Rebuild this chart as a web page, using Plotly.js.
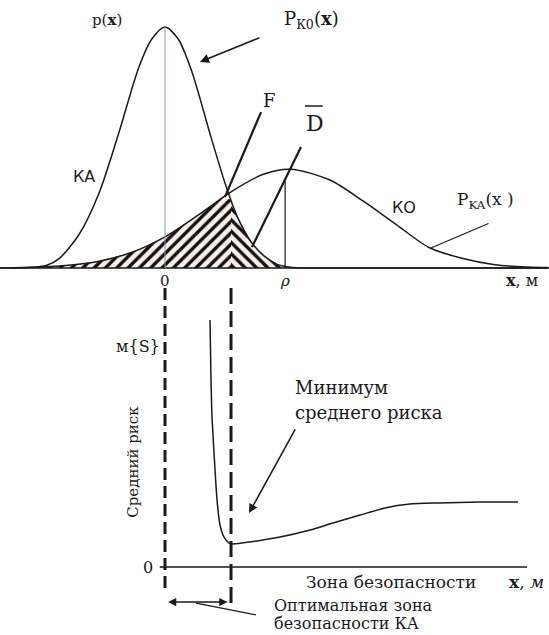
<!DOCTYPE html>
<html><head><meta charset="utf-8">
<script src="https://cdn.plot.ly/plotly-3.0.1.min.js"></script>
<style>body{margin:0;background:#fff}#c{width:549px;height:635px}</style>
</head><body><div id="c"></div>
<script>
// ---- top panel: probability densities (x in units of l) ----
const kaX = [-2.5,-2.0,-1.8,-1.6,-1.3,-1.0,-0.7,-0.4,-0.2,0,0.2,0.4,0.7,0.9,1.0,1.1,1.3,1.5,1.7,1.9,2.2,5.8];
const kaY = [0,0.003,0.01,0.04,0.14,0.31,0.56,0.83,0.95,1.0,0.95,0.82,0.54,0.36,0.28,0.21,0.11,0.05,0.015,0.003,0,0];
const koX = [-2.5,-1.9,-1.5,-1.0,-0.5,0,0.5,1.0,1.5,1.9,2.5,3.0,3.5,4.0,4.5,5.0,5.5,5.8];
const koY = [0,0.004,0.01,0.028,0.065,0.129,0.219,0.316,0.39,0.41,0.365,0.278,0.181,0.085,0.04,0.013,0.004,0.002];
const hatchLX = [-1.9,-1.5,-1.0,-0.5,0,0.5,0.9,1.0];
const hatchLY = [0.004,0.01,0.028,0.065,0.129,0.219,0.30,0.28];
const hatchRX = [1.0,1.1,1.3,1.5,1.7,1.9];
const hatchRY = [0.28,0.21,0.11,0.05,0.015,0.003];
const lineFX = [0.909,1.455], lineFY = [0.295,0.647];
const lineDX = [1.318,2.06], lineDY = [0.087,0.502];
const rho = 1.82, rhoTop = 0.36;
// ---- bottom panel: average risk ----
const riskX = [0.682,0.697,0.712,0.758,0.788,0.833,0.894,0.97,1.03,1.29,1.742,2.197,2.545,2.955,3.333,3.71,4.136,4.77,5.348];
const riskY = [1.123,0.85,0.682,0.441,0.305,0.191,0.136,0.109,0.105,0.114,0.136,0.168,0.2,0.236,0.268,0.286,0.291,0.295,0.295];
const optZone = [0, 1];

const SERIF = 'DejaVu Serif, Liberation Serif, serif';
const SANS = 'DejaVu Sans, Liberation Sans, sans-serif';
const ink = '#1a1a1a';

const traces = [
  {x: hatchLX, y: hatchLY, xaxis:'x', yaxis:'y', mode:'lines', line:{width:0}, fill:'tozeroy',
   fillcolor:'rgba(0,0,0,0)', fillpattern:{shape:'/', size:8, solidity:0.42, fgcolor:'#111', bgcolor:'#fbefe9'}, hoverinfo:'skip'},
  {x: hatchRX, y: hatchRY, xaxis:'x', yaxis:'y', mode:'lines', line:{width:0}, fill:'tozeroy',
   fillcolor:'rgba(0,0,0,0)', fillpattern:{shape:'\\', size:8, solidity:0.42, fgcolor:'#111', bgcolor:'#fbefe9'}, hoverinfo:'skip'},
  {x: kaX, y: kaY, mode:'lines', line:{color:ink, width:1.5, shape:'spline', smoothing:0.8}},
  {x: koX, y: koY, mode:'lines', line:{color:ink, width:1.5, shape:'spline', smoothing:0.8}},
  {x: lineFX, y: lineFY, mode:'lines', line:{color:ink, width:2.2}},
  {x: lineDX, y: lineDY, mode:'lines', line:{color:ink, width:2.2}},
  {x: riskX, y: riskY, xaxis:'x', yaxis:'y2', mode:'lines', line:{color:ink, width:1.5, shape:'spline', smoothing:0.6}}
];

const ann = (x, y, text, o) => Object.assign({x, y, xref:'x', yref:'y', text, showarrow:false,
  font:{family:SERIF, size:17, color:ink}}, o || {});
const f = (size, family) => ({family: family || SERIF, size, color: ink});

const annotations = [
  ann(-0.879, 1.029, 'p(<b>x</b>)', {font:f(15)}),
  ann(2.227, 1.029, 'P<sub>К0</sub>(<b>x</b>)', {font:f(18)}),
  {x:0.53, y:0.855, ax:1.455, ay:0.958, xref:'x', yref:'y', axref:'x', ayref:'y', text:'', showarrow:true,
   arrowhead:2, arrowsize:1.2, arrowwidth:1.5, arrowcolor:ink},
  ann(1.59, 0.697, 'F', {font:f(18)}),
  ann(2.27, 0.6, 'D', {font:f(22)}),
  ann(-1.227, 0.378, 'КА', {font:f(16, SANS)}),
  ann(3.62, 0.253, 'КО', {font:f(16, SANS)}),
  ann(4.85, 0.282, 'P<sub>KA</sub>(x )', {font:f(17)}),
  {x:4.03, y:0.083, ax:4.924, ay:0.187, xref:'x', yref:'y', axref:'x', ayref:'y', text:'', showarrow:true,
   arrowhead:0, arrowwidth:1.2, arrowcolor:ink},
  ann(0, -0.054, '0', {font:f(15)}),
  ann(rho, -0.054, '<i>ρ</i>', {font:f(15)}),
  ann(5.41, -0.054, '<b>x</b>, м', {font:f(16)}),
  // bottom
  ann(-0.409, 1.0, 'м{S}', {yref:'y2', font:f(16)}),
  ann(-0.48, 0.48, 'Средний риск', {yref:'y2', textangle:-90, font:f(15)}),
  ann(-0.26, 0, '0', {yref:'y2', font:f(16)}),
  ann(1.94, 0.814, 'Минимум', {yref:'y2', xanchor:'left', font:f(18)}),
  ann(1.94, 0.70, 'среднего риска', {yref:'y2', xanchor:'left', font:f(18)}),
  {x:1.273, y:0.245, ax:1.985, ay:0.632, xref:'x', yref:'y2', axref:'x', ayref:'y2', text:'', showarrow:true,
   arrowhead:2, arrowsize:1.2, arrowwidth:1.5, arrowcolor:ink},
  ann(3.424, -0.068, 'Зона безопасности', {yref:'y2', font:f(17)}),
  ann(5.18, -0.068, '<b>x</b>, <i>м</i>', {yref:'y2', xanchor:'left', font:f(17)}),
  {x:optZone[0]+0.045, y:-0.159, ax:optZone[1]-0.03, ay:-0.159, xref:'x', yref:'y2', axref:'x', ayref:'y2', text:'',
   showarrow:true, arrowhead:2, startarrowhead:2, arrowside:'end+start', arrowsize:1.1, arrowwidth:1.5, arrowcolor:ink},
  ann(1.62, -0.176, 'Оптимальная зона', {yref:'y2', xanchor:'left', font:f(16)}),
  ann(1.62, -0.258, 'безопасности КА', {yref:'y2', xanchor:'left', font:f(16)})
];

const shapes = [
  {type:'line', xref:'x', yref:'y', x0:-2.32, x1:5.818, y0:0, y1:0, line:{color:ink, width:1.6}},
  {type:'line', xref:'x', yref:'y', x0:0, x1:0, y0:0, y1:1, line:{color:'#8a9bb0', width:1}},
  {type:'line', xref:'x', yref:'y', x0:rho, x1:rho, y0:0, y1:rhoTop, line:{color:ink, width:1.2}},
  {type:'line', xref:'x', yref:'y', x0:2.12, x1:2.39, y0:0.672, y1:0.672, line:{color:ink, width:1.5}},
  {type:'line', xref:'x', yref:'y2', x0:0, x1:5.485, y0:0, y1:0, line:{color:ink, width:1.6}},
  {type:'line', xref:'x', yref:'y2', x0:-0.08, x1:0, y0:0, y1:0, line:{color:ink, width:1.6}},
  {type:'line', xref:'x', yref:'y2', x0:optZone[0], x1:optZone[0], y0:1.268, y1:-0.105, line:{color:ink, width:3, dash:'12px,6px'}},
  {type:'line', xref:'x', yref:'y2', x0:optZone[1], x1:optZone[1], y0:1.268, y1:-0.173, line:{color:ink, width:3, dash:'16px,7px'}},
  {type:'line', xref:'x', yref:'y2', x0:0.47, x1:1.379, y0:-0.164, y1:-0.218, line:{color:ink, width:1.2}}
];

const layout = {
  width:549, height:635, margin:{l:0, r:0, t:0, b:0}, showlegend:false,
  paper_bgcolor:'#fff', plot_bgcolor:'#fff',
  xaxis:{range:[-2.5, 5.818], visible:false, fixedrange:true},
  yaxis:{range:[-1.523, 1.112], visible:false, fixedrange:true},
  yaxis2:{range:[-0.309, 2.577], visible:false, overlaying:'y', fixedrange:true},
  annotations, shapes
};
Plotly.newPlot('c', traces, layout, {staticPlot:true});
</script></body></html>
